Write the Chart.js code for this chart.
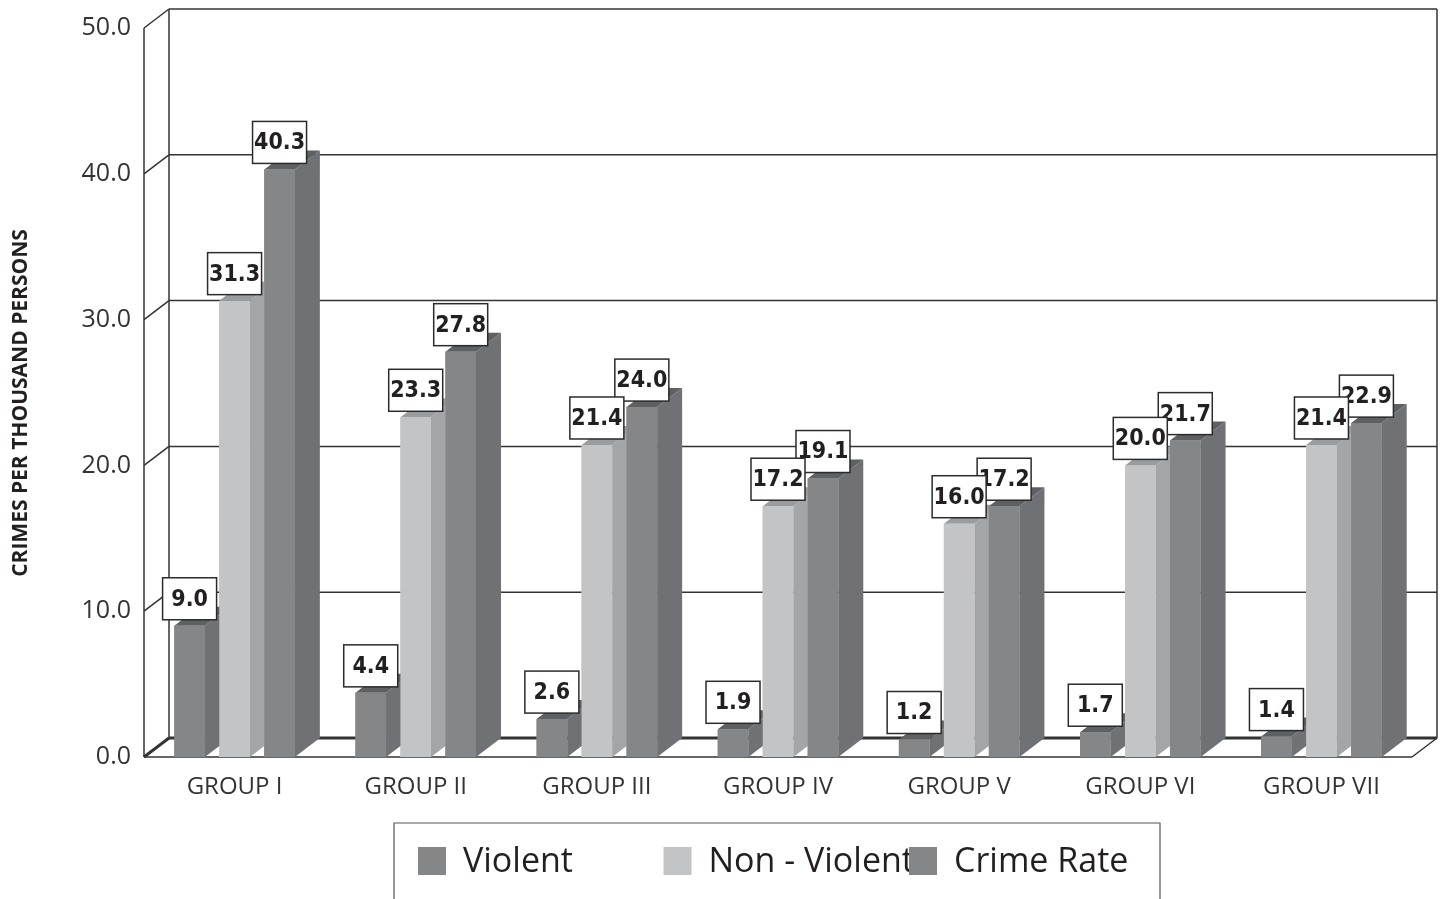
<!DOCTYPE html>
<html>
<head>
<meta charset="utf-8">
<title>Crimes per thousand persons</title>
<script src="https://cdn.jsdelivr.net/npm/chart.js@4"></script>
<style>
    html, body { margin: 0; padding: 0; background: #fff; overflow: hidden; }
    canvas { display: block; }
</style>
</head>
<body>
<canvas id="myChart" width="1445" height="899"></canvas>
<script>
var groups = ["GROUP I", "GROUP II", "GROUP III", "GROUP IV", "GROUP V", "GROUP VI", "GROUP VII"];
var violent = [9.0, 4.4, 2.6, 1.9, 1.2, 1.7, 1.4];
var nonViolent = [31.3, 23.3, 21.4, 17.2, 16.0, 20.0, 21.4];
var crimeRate = [40.3, 27.8, 24.0, 19.1, 17.2, 21.7, 22.9];
var seriesNames = ["Violent", "Non - Violent", "Crime Rate"];
var axisTitle = "CRIMES PER THOUSAND PERSONS";

var narrow = '"Liberation Sans Narrow", "Open Sans", sans-serif';
var labelFont = 'bold 23px "DejaVu Sans Condensed", "DejaVu Sans", sans-serif';
var lineColor = "#333335";
var depthX = 25, depthY = 19;
var faces = [
    { front: "#858688", side: "#707174", top: "#5f6062" },
    { front: "#c3c4c6", side: "#a3a5a7", top: "#9a9c9e" },
    { front: "#858688", side: "#707174", top: "#5f6062" }
];

function line(ctx, x1, y1, x2, y2, width) {
    ctx.lineWidth = width;
    ctx.beginPath();
    ctx.moveTo(x1, y1);
    ctx.lineTo(x2, y2);
    ctx.stroke();
}

function poly(ctx, pts, color) {
    ctx.fillStyle = color;
    ctx.beginPath();
    ctx.moveTo(pts[0][0], pts[0][1]);
    for (var i = 1; i < pts.length; i++) ctx.lineTo(pts[i][0], pts[i][1]);
    ctx.closePath();
    ctx.fill();
}

// the walls and floor behind the bars
var wallPlugin = {
    id: "walls",
    beforeDatasetsDraw: function (chart) {
        var ctx = chart.ctx, area = chart.chartArea, y = chart.scales.y;
        var backL = area.left + depthX, backR = area.right + depthX;
        ctx.save();
        ctx.strokeStyle = lineColor;
        y.ticks.forEach(function (t) {
            var py = y.getPixelForValue(t.value);
            var thick = t.value === 0 ? 3 : 1.5;
            line(ctx, area.left, py, backL, py - depthY, thick);
            line(ctx, backL, py - depthY, backR, py - depthY, thick);
        });
        line(ctx, area.left, area.top, area.left, area.bottom, 1.5);
        line(ctx, backL, area.top - depthY, backL, area.bottom - depthY, 1.5);
        line(ctx, backR, area.top - depthY, backR, area.bottom - depthY, 1.5);
        line(ctx, area.left, area.bottom, area.right, area.bottom, 1.5);
        line(ctx, area.right, area.bottom, backR, area.bottom - depthY, 1.5);
        ctx.restore();
    }
};

// extruded bars, repainted left to right so each front hides the previous side
var barPlugin = {
    id: "bars3d",
    afterDatasetsDraw: function (chart) {
        var ctx = chart.ctx;
        ctx.save();
        chart.data.datasets.forEach(function (ds, d) {
            var color = faces[d];
            chart.getDatasetMeta(d).data.forEach(function (bar) {
                var l = bar.x - bar.width / 2, r = bar.x + bar.width / 2;
                poly(ctx, [[r, bar.y], [r + depthX, bar.y - depthY], [r + depthX, bar.base - depthY], [r, bar.base]], color.side);
                poly(ctx, [[l, bar.y], [l + depthX, bar.y - depthY], [r + depthX, bar.y - depthY], [r, bar.y]], color.top);
                bar.draw(ctx, chart.chartArea);
            });
        });
        ctx.restore();
    }
};

// value boxes, first series ends up on top
var boxPlugin = {
    id: "valueBoxes",
    afterDraw: function (chart) {
        var ctx = chart.ctx;
        ctx.save();
        ctx.font = labelFont;
        ctx.textAlign = "center";
        ctx.textBaseline = "middle";
        for (var d = chart.data.datasets.length - 1; d >= 0; d--) {
            var ds = chart.data.datasets[d];
            chart.getDatasetMeta(d).data.forEach(function (bar, i) {
                var w = 54, h = 42;
                var bx = bar.x - w / 2, by = bar.y - 6 - h;
                ctx.fillStyle = "#fff";
                ctx.strokeStyle = "#2b2b2d";
                ctx.lineWidth = 1.5;
                ctx.fillRect(bx, by, w, h);
                ctx.strokeRect(bx, by, w, h);
                ctx.fillStyle = "#231f20";
                ctx.fillText(ds.data[i].toFixed(1), bar.x, by + h / 2 + 1);
            });
        }
        ctx.restore();
    }
};

// axis title and the boxed legend at the bottom
var textPlugin = {
    id: "titleLegend",
    afterDraw: function (chart) {
        var ctx = chart.ctx;
        ctx.save();
        ctx.fillStyle = "#231f20";
        ctx.textBaseline = "middle";
        ctx.textAlign = "center";
        ctx.translate(21, 403);
        ctx.rotate(-Math.PI / 2);
        ctx.font = 'bold 21px ' + narrow;
        ctx.fillText(axisTitle, 0, 0);
        ctx.restore();

        ctx.save();
        ctx.strokeStyle = "#555557";
        ctx.lineWidth = 1.2;
        ctx.beginPath();
        ctx.moveTo(394, 899);
        ctx.lineTo(394, 823);
        ctx.lineTo(1160, 823);
        ctx.lineTo(1160, 899);
        ctx.stroke();
        ctx.font = '34px ' + narrow;
        ctx.textBaseline = "middle";
        seriesNames.forEach(function (name, i) {
            var sx = 418 + 245.5 * i;
            ctx.fillStyle = faces[i].front;
            ctx.fillRect(sx, 847, 28, 28);
            ctx.fillStyle = "#231f20";
            ctx.fillText(name, sx + 45, 862);
        });
        ctx.restore();
    }
};

function makeSet(i, values) {
    return { label: seriesNames[i], data: values, backgroundColor: faces[i].front, borderWidth: 0 };
}

new Chart(document.getElementById("myChart"), {
    type: "bar",
    data: {
        labels: groups,
        datasets: [makeSet(0, violent), makeSet(1, nonViolent), makeSet(2, crimeRate)]
    },
    options: {
        responsive: false,
        animation: false,
        layout: { padding: { top: 26, right: 33, left: 0, bottom: 0 } },
        categoryPercentage: 0.745,
        barPercentage: 0.68,
        plugins: { legend: { display: false }, tooltip: { enabled: false } },
        scales: {
            x: {
                grid: { display: false, drawTicks: false },
                border: { display: false },
                ticks: { color: "#333335", padding: 16, maxRotation: 0, font: { family: narrow, size: 24 } },
                afterFit: function (s) { s.height = 142; }
            },
            y: {
                min: 0,
                max: 50,
                grid: { display: false, drawTicks: false },
                border: { display: false },
                ticks: {
                    stepSize: 10,
                    color: "#333335",
                    padding: 13,
                    font: { family: narrow, size: 25 },
                    callback: function (v) { return v.toFixed(1); }
                },
                afterFit: function (s) { s.width = 144; }
            }
        }
    },
    plugins: [wallPlugin, barPlugin, boxPlugin, textPlugin]
});
</script>
</body>
</html>
